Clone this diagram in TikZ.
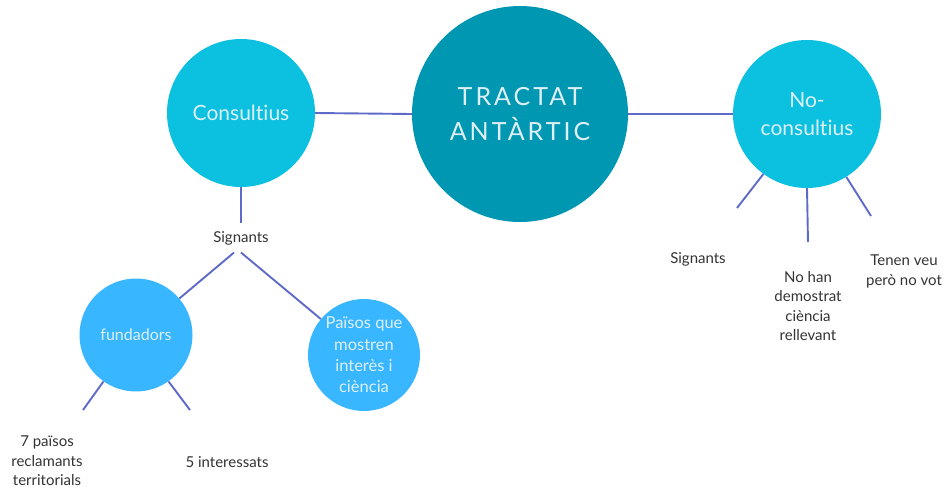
\documentclass[tikz,border=0pt]{standalone}
\usepackage{fontspec}
\setmainfont{Lato}[Ligatures=NoCommon]
\newfontfamily\titlefont[LetterSpace=12,Ligatures=NoCommon]{Lato}
\definecolor{tractatblue}{RGB}{0,151,178}
\definecolor{consultblue}{RGB}{12,192,223}
\definecolor{fundblue}{RGB}{56,182,255}
\definecolor{linkblue}{RGB}{94,106,200}
\definecolor{bubbletext}{RGB}{222,240,246}
\definecolor{labelgray}{RGB}{51,51,51}
\begin{document}
\begin{tikzpicture}[x=1pt,y=-1pt,
                    bubble/.style={circle,inner sep=0pt,text=bubbletext,align=center},
                    link/.style={draw=linkblue,line width=1.9pt},
                    tag/.style={text=labelgray,align=center,inner sep=0pt,font=\fontsize{15}{19.5}\selectfont}]
                    \useasboundingbox (0,0) rectangle (946,490);
                    % circles
                    \node[bubble,fill=tractatblue,minimum size=216pt,font=\titlefont\fontsize{25}{35}\selectfont] (tractat) at (520,114) {TRACTAT\\ANTÀRTIC};
                    \node[bubble,fill=consultblue,minimum size=148pt,font=\fontsize{21}{28}\selectfont] (consultius) at (241,113) {Consultius};
                    \node[bubble,fill=consultblue,minimum size=148pt,font=\fontsize{21}{28}\selectfont] (noconsultius) at (807,114) {No-\\consultius};
                    \node[bubble,fill=fundblue,minimum size=113pt,font=\fontsize{16}{21}\selectfont] (fundadors) at (136,335) {fundadors};
                    \node[bubble,fill=fundblue,minimum size=112pt,font=\fontsize{16.5}{21.3}\selectfont] (paisos) at (364,355) {Països que\\mostren\\interès i\\ciència};
                    % labels
                    \node[tag,inner sep=7.5pt] (signants) at (241,238) {Signants};
                    \node[tag] (nosignants) at (698,259) {Signants};
                    \node[tag] (nociencia) at (808,306) {No han\\demostrat\\ciència\\rellevant};
                    \node[tag] (veu) at (904,271.5) {Tenen veu\\però no vot};
                    \node[tag] (reclamants) at (47,461) {7 països\\reclamants\\territorials};
                    \node[tag] (interessats) at (227,462) {5 interessats};
                    % free ends of the short strokes
                    \coordinate (fundL) at (83,410);
                    \coordinate (fundR) at (190,410);
                    \coordinate (noL) at (737,208);
                    \coordinate (noM) at (808,242);
                    \coordinate (noR) at (871,216);
                    % connectors
                    \draw[link] (consultius.east) -- (tractat.west);
                    \draw[link] (tractat.east) -- (noconsultius.west);
                    \draw[link] (consultius.south) -- (signants.north);
                    \draw[link] ([xshift=-7pt]signants.south) -- (fundadors);
                    \draw[link] (signants.south) -- (paisos);
                    \draw[link] (fundadors.235) -- (fundL);
                    \draw[link] (fundadors.305) -- (fundR);
                    \draw[link] (noconsultius.234) -- (noL);
                    \draw[link] (noconsultius.270) -- (noM);
                    \draw[link] (noconsultius.302) -- (noR);
                \end{tikzpicture}
\end{document}
